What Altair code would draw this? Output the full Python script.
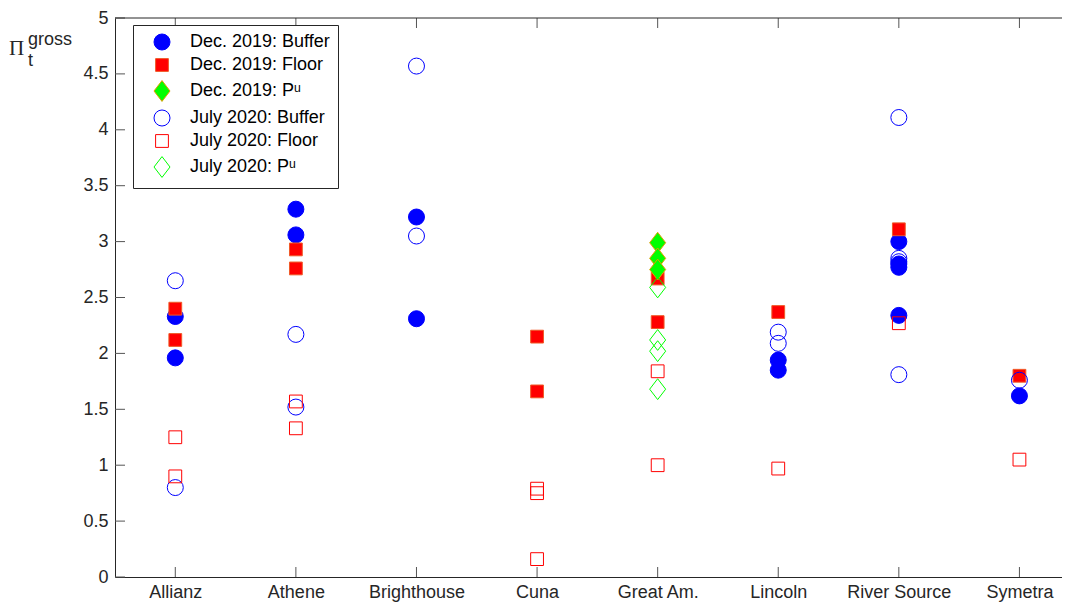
import json
import altair as alt
import pandas as pd

companies = ["Allianz", "Athene", "Brighthouse", "Cuna", "Great Am.", "Lincoln", "River Source", "Symetra"]

series_names = ["Dec. 2019: Buffer", "Dec. 2019: Floor", "Dec. 2019: P\u1d58",
                "July 2020: Buffer", "July 2020: Floor", "July 2020: P\u1d58"]

# Dec. 2019: Buffer
dec_buffer_co = ["Allianz", "Allianz", "Athene", "Athene", "Brighthouse", "Brighthouse",
                 "Lincoln", "Lincoln", "River Source", "River Source", "River Source", "River Source", "Symetra"]
dec_buffer_val = [2.33, 1.96, 3.29, 3.06, 3.22, 2.31, 1.94, 1.85, 3.00, 2.80, 2.77, 2.34, 1.62]

# Dec. 2019: Floor
dec_floor_co = ["Allianz", "Allianz", "Athene", "Athene", "Cuna", "Cuna",
                "Great Am.", "Great Am.", "Lincoln", "River Source", "Symetra"]
dec_floor_val = [2.40, 2.12, 2.93, 2.76, 2.15, 1.66, 2.67, 2.28, 2.37, 3.11, 1.80]

# Dec. 2019: P^u
dec_pu_co = ["Great Am.", "Great Am.", "Great Am."]
dec_pu_val = [2.99, 2.85, 2.75]

# July 2020: Buffer
jul_buffer_co = ["Allianz", "Allianz", "Athene", "Athene", "Brighthouse", "Brighthouse",
                 "Lincoln", "Lincoln", "River Source", "River Source", "River Source", "River Source", "Symetra"]
jul_buffer_val = [2.65, 0.80, 2.17, 1.52, 4.57, 3.05, 2.19, 2.09, 4.11, 2.85, 2.82, 1.81, 1.76]

# July 2020: Floor
jul_floor_co = ["Allianz", "Allianz", "Athene", "Athene", "Cuna", "Cuna", "Cuna",
                "Great Am.", "Great Am.", "Lincoln", "River Source", "Symetra"]
jul_floor_val = [1.25, 0.90, 1.57, 1.33, 0.79, 0.75, 0.16, 1.84, 1.00, 0.97, 2.27, 1.05]

# July 2020: P^u
jul_pu_co = ["Great Am.", "Great Am.", "Great Am.", "Great Am."]
jul_pu_val = [2.59, 2.12, 2.02, 1.68]

y_ticks = [0, 0.5, 1, 1.5, 2, 2.5, 3, 3.5, 4, 4.5, 5]
x_ticks = [1, 2, 3, 4, 5, 6, 7, 8]

fill_colors = ["#0000ff", "#ff0000", "#00ff00", "transparent", "transparent", "transparent"]
stroke_colors = ["#0000ff", "#f05a28", "#e0a000", "#0000ff", "#ff0000", "#00ff00"]
SQUARE = "M-0.8,-0.8L0.8,-0.8L0.8,0.8L-0.8,0.8Z"
DIAMOND = "M-1,0L0,-1.3L1,0L0,1.3Z"
shapes = ["circle", SQUARE, DIAMOND, "circle", SQUARE, DIAMOND]

groups = [
    (series_names[0], dec_buffer_co, dec_buffer_val),
    (series_names[1], dec_floor_co, dec_floor_val),
    (series_names[2], dec_pu_co, dec_pu_val),
    (series_names[3], jul_buffer_co, jul_buffer_val),
    (series_names[4], jul_floor_co, jul_floor_val),
    (series_names[5], jul_pu_co, jul_pu_val),
]
rows = []
for s, cos, vals in groups:
    for c, v in zip(cos, vals):
        rows.append({"series": s, "pos": companies.index(c) + 1, "value": v})
df = pd.DataFrame(rows)

W, H = 947, 559
XDOM = [0.5, 8.353]
YDOM = [0, 5]
FONT = "Liberation Sans"
AXC = "#262626"

xscale = alt.Scale(domain=XDOM, nice=False, zero=False)
yscale = alt.Scale(domain=YDOM, nice=False, zero=True)

x_axis = alt.Axis(values=x_ticks, ticks=False, grid=False, title=None,
                  labelExpr=f"{json.dumps(companies)}[datum.value - 1]",
                  labelFont=FONT, labelFontSize=18, labelColor=AXC,
                  labelPadding=6, domainColor=AXC, domainWidth=1)
y_axis = alt.Axis(values=y_ticks, format="~g", ticks=False, grid=False, title=None,
                  labelFont=FONT, labelFontSize=18, labelColor=AXC,
                  labelPadding=7, domainColor=AXC, domainWidth=1)

leg = alt.Legend(title=None, orient="none", legendX=18, legendY=7)

points = alt.Chart(df).mark_point(filled=True, opacity=1, size=256, strokeWidth=1).encode(
    x=alt.X("pos:Q", scale=xscale, axis=x_axis),
    y=alt.Y("value:Q", scale=yscale, axis=y_axis),
    fill=alt.Fill("series:N", scale=alt.Scale(domain=series_names, range=fill_colors), legend=leg),
    stroke=alt.Stroke("series:N", scale=alt.Scale(domain=series_names, range=stroke_colors), legend=leg),
    shape=alt.Shape("series:N", scale=alt.Scale(domain=series_names, range=shapes), legend=leg),
)

ytick_df = pd.DataFrame({"value": y_ticks})
xtick_df = pd.DataFrame({"pos": x_ticks})

yticks = alt.Chart(ytick_df).mark_rule(color="#555555", strokeWidth=1).encode(
    y=alt.Y("value:Q", scale=yscale, axis=y_axis),
    x=alt.value(0), x2=alt.value(10),
)
xticks_bottom = alt.Chart(xtick_df).mark_rule(color="#555555", strokeWidth=1).encode(
    x=alt.X("pos:Q", scale=xscale, axis=x_axis),
    y=alt.value(H - 10), y2=alt.value(H),
)
xticks_top = alt.Chart(xtick_df).mark_rule(color="#555555", strokeWidth=1).encode(
    x=alt.X("pos:Q", scale=xscale, axis=x_axis),
    y=alt.value(0), y2=alt.value(10),
)
top_line = alt.Chart(pd.DataFrame({"a": [0]})).mark_rule(color=AXC, strokeWidth=1).encode(
    x=alt.value(0), x2=alt.value(W), y=alt.value(0),
)

lab = pd.DataFrame({"a": [0]})
pi_txt = alt.Chart(lab).mark_text(align="left", baseline="alphabetic", font="Liberation Serif",
                                  fontSize=21, color=AXC).encode(
    x=alt.value(-106), y=alt.value(37), text=alt.value("\u03a0"))
gross_txt = alt.Chart(lab).mark_text(align="left", baseline="alphabetic", font=FONT,
                                     fontSize=18, color=AXC).encode(
    x=alt.value(-87), y=alt.value(27), text=alt.value("gross"))
t_txt = alt.Chart(lab).mark_text(align="left", baseline="alphabetic", font=FONT,
                                 fontSize=18, color=AXC).encode(
    x=alt.value(-87), y=alt.value(48), text=alt.value("t"))

chart = alt.layer(
    points, yticks, xticks_bottom, xticks_top, top_line, pi_txt, gross_txt, t_txt
).properties(
    width=W, height=H, background="white",
    autosize=alt.AutoSizeParams(type="none"),
    padding={"left": 107, "top": 10, "right": 0, "bottom": 25},
).configure_view(stroke=None).configure_legend(
    strokeColor=AXC, fillColor="white", padding=8, cornerRadius=0,
    labelFont=FONT, labelFontSize=18, labelColor="#000000", labelOffset=19,
    symbolSize=256, symbolStrokeWidth=1, symbolOffset=12, rowPadding=4, labelLimit=400,
)

chart.save("out.html", embed_options={"renderer": "svg", "actions": False})
